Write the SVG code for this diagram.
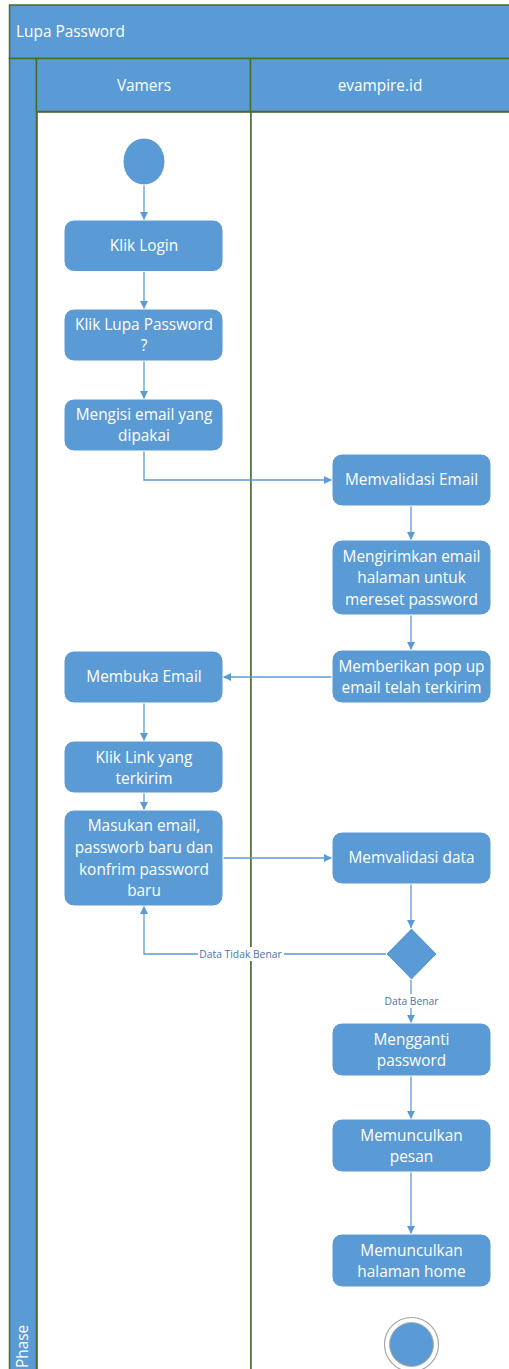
<svg xmlns="http://www.w3.org/2000/svg" width="509" height="1369" viewBox="0 0 509 1369">
  <style>
    .band { fill: #5b9bd5; stroke: #4b6b2b; stroke-width: 1.5; }
    .lane { fill: #ffffff; stroke: #4b6b2b; stroke-width: 1.5; }
    .node rect, .node path { fill: #5b9bd5; stroke: #ffffff; stroke-width: 1; }
    .node text, .hdr { fill: #ffffff; font-family: "Open Sans", "Liberation Sans", sans-serif; font-size: 15.4px; text-anchor: middle; }
    .hdr-left { text-anchor: start; }
    .conn path { fill: none; stroke: #5b9bd5; stroke-width: 1.3; }
    .lbl { fill: #4a76a8; font-family: "Open Sans", "Liberation Sans", sans-serif; font-size: 10.3px; text-anchor: middle; }
    .lblbg { fill: #ffffff; }
  </style>
  <defs>
    <marker id="arrow" viewBox="0 0 10 10" refX="10" refY="5" markerWidth="8" markerHeight="8" markerUnits="userSpaceOnUse" orient="auto">
      <path d="M0,0 L10,5 L0,10 Z" fill="#5b9bd5"/>
    </marker>
  </defs>

  <!-- swimlane frame -->
  <g id="pool">
    <rect class="lane" x="37" y="112" width="214" height="1270"/>
    <rect class="lane" x="251" y="112" width="270" height="1270"/>
    <rect class="band" x="9.5" y="5" width="520" height="53.5"/>
    <rect class="band" x="9.5" y="58.5" width="27" height="1320"/>
    <rect class="band" x="36.5" y="58.5" width="214" height="53"/>
    <rect class="band" x="250.5" y="58.5" width="280" height="53"/>
    <text class="hdr hdr-left" x="16" y="37">Lupa Password</text>
    <text class="hdr" x="144" y="91">Vamers</text>
    <text class="hdr" x="380" y="91">evampire.id</text>
    <text class="hdr hdr-left" transform="translate(28,1368) rotate(-90)">Phase</text>
  </g>

  <!-- connectors -->
  <g id="connectors" class="conn">
    <path d="M144,185 V220" marker-end="url(#arrow)"/>
    <path d="M144,271 V309" marker-end="url(#arrow)"/>
    <path d="M144,361 V399" marker-end="url(#arrow)"/>
    <path d="M144,451 V480 H332" marker-end="url(#arrow)"/>
    <path d="M411,506 V540" marker-end="url(#arrow)"/>
    <path d="M411,615 V650" marker-end="url(#arrow)"/>
    <path d="M332,677 H223" marker-end="url(#arrow)"/>
    <path d="M144,703 V741" marker-end="url(#arrow)"/>
    <path d="M144,793 V810" marker-end="url(#arrow)"/>
    <path d="M223,858 H332" marker-end="url(#arrow)"/>
    <path d="M411,884 V928" marker-end="url(#arrow)"/>
    <path d="M386,954 H144 V906" marker-end="url(#arrow)"/>
    <path d="M411,980 V1023" marker-end="url(#arrow)"/>
    <path d="M411,1076 V1119" marker-end="url(#arrow)"/>
    <path d="M411,1172 V1234" marker-end="url(#arrow)"/>
    <rect class="lblbg" x="198" y="947" width="86" height="14"/>
    <text class="lbl" x="240.5" y="957.5">Data Tidak Benar</text>
    <rect class="lblbg" x="382" y="994" width="59" height="14"/>
    <text class="lbl" x="411.5" y="1004.5">Data Benar</text>
  </g>

  <!-- start / end -->
  <g id="start" class="node">
    <ellipse cx="144" cy="161.5" rx="21" ry="23.5" fill="#5b9bd5" stroke="#ffffff"/>
  </g>
  <g id="end">
    <circle cx="411.5" cy="1344.5" r="27" fill="#ffffff" stroke="#a6a6a6" stroke-width="1.2"/>
    <circle cx="411.5" cy="1344.5" r="22" fill="#5b9bd5" stroke="#b0b0b0" stroke-width="1"/>
  </g>

  <!-- Vamers lane -->
  <g id="klik-login" class="node">
    <rect x="64" y="220" width="159" height="51.5" rx="10"/>
    <text x="144" y="251">Klik Login</text>
  </g>
  <g id="klik-lupa" class="node">
    <rect x="64" y="309" width="159" height="52" rx="10"/>
    <text x="144" y="330">Klik Lupa Password</text>
    <text x="144" y="351">?</text>
  </g>
  <g id="mengisi-email" class="node">
    <rect x="64" y="399" width="159" height="52" rx="10"/>
    <text x="144" y="420">Mengisi email yang</text>
    <text x="144" y="441">dipakai</text>
  </g>
  <g id="membuka-email" class="node">
    <rect x="64" y="651" width="159" height="52" rx="10"/>
    <text x="144" y="682">Membuka Email</text>
  </g>
  <g id="klik-link" class="node">
    <rect x="64" y="741" width="159" height="52" rx="10"/>
    <text x="144" y="763">Klik Link yang</text>
    <text x="144" y="784">terkirim</text>
  </g>
  <g id="masukan-email" class="node">
    <rect x="64" y="810" width="159" height="96" rx="10"/>
    <text x="144" y="831">Masukan email,</text>
    <text x="144" y="853">passworb baru dan</text>
    <text x="144" y="875">konfrim password</text>
    <text x="144" y="896">baru</text>
  </g>

  <!-- evampire.id lane -->
  <g id="memvalidasi-email" class="node">
    <rect x="332" y="454" width="159" height="52" rx="10"/>
    <text x="411.5" y="485">Memvalidasi Email</text>
  </g>
  <g id="mengirimkan-email" class="node">
    <rect x="332" y="540" width="159" height="75" rx="10"/>
    <text x="411.5" y="562">Mengirimkan email</text>
    <text x="411.5" y="583">halaman untuk</text>
    <text x="411.5" y="605">mereset password</text>
  </g>
  <g id="memberikan-popup" class="node">
    <rect x="332" y="650" width="159" height="53" rx="10"/>
    <text x="411.5" y="672">Memberikan pop up</text>
    <text x="411.5" y="693">email telah terkirim</text>
  </g>
  <g id="memvalidasi-data" class="node">
    <rect x="332" y="832" width="159" height="52" rx="10"/>
    <text x="411.5" y="863">Memvalidasi data</text>
  </g>
  <g id="keputusan" class="node">
    <path d="M411.5,928 L437,954 L411.5,980 L386,954 Z"/>
  </g>
  <g id="mengganti-password" class="node">
    <rect x="332" y="1023" width="159" height="53" rx="10"/>
    <text x="411.5" y="1045">Mengganti</text>
    <text x="411.5" y="1066">password</text>
  </g>
  <g id="memunculkan-pesan" class="node">
    <rect x="332" y="1119" width="159" height="53" rx="10"/>
    <text x="411.5" y="1141">Memunculkan</text>
    <text x="411.5" y="1162">pesan</text>
  </g>
  <g id="memunculkan-home" class="node">
    <rect x="332" y="1234" width="159" height="53" rx="10"/>
    <text x="411.5" y="1256">Memunculkan</text>
    <text x="411.5" y="1277">halaman home</text>
  </g>
</svg>
